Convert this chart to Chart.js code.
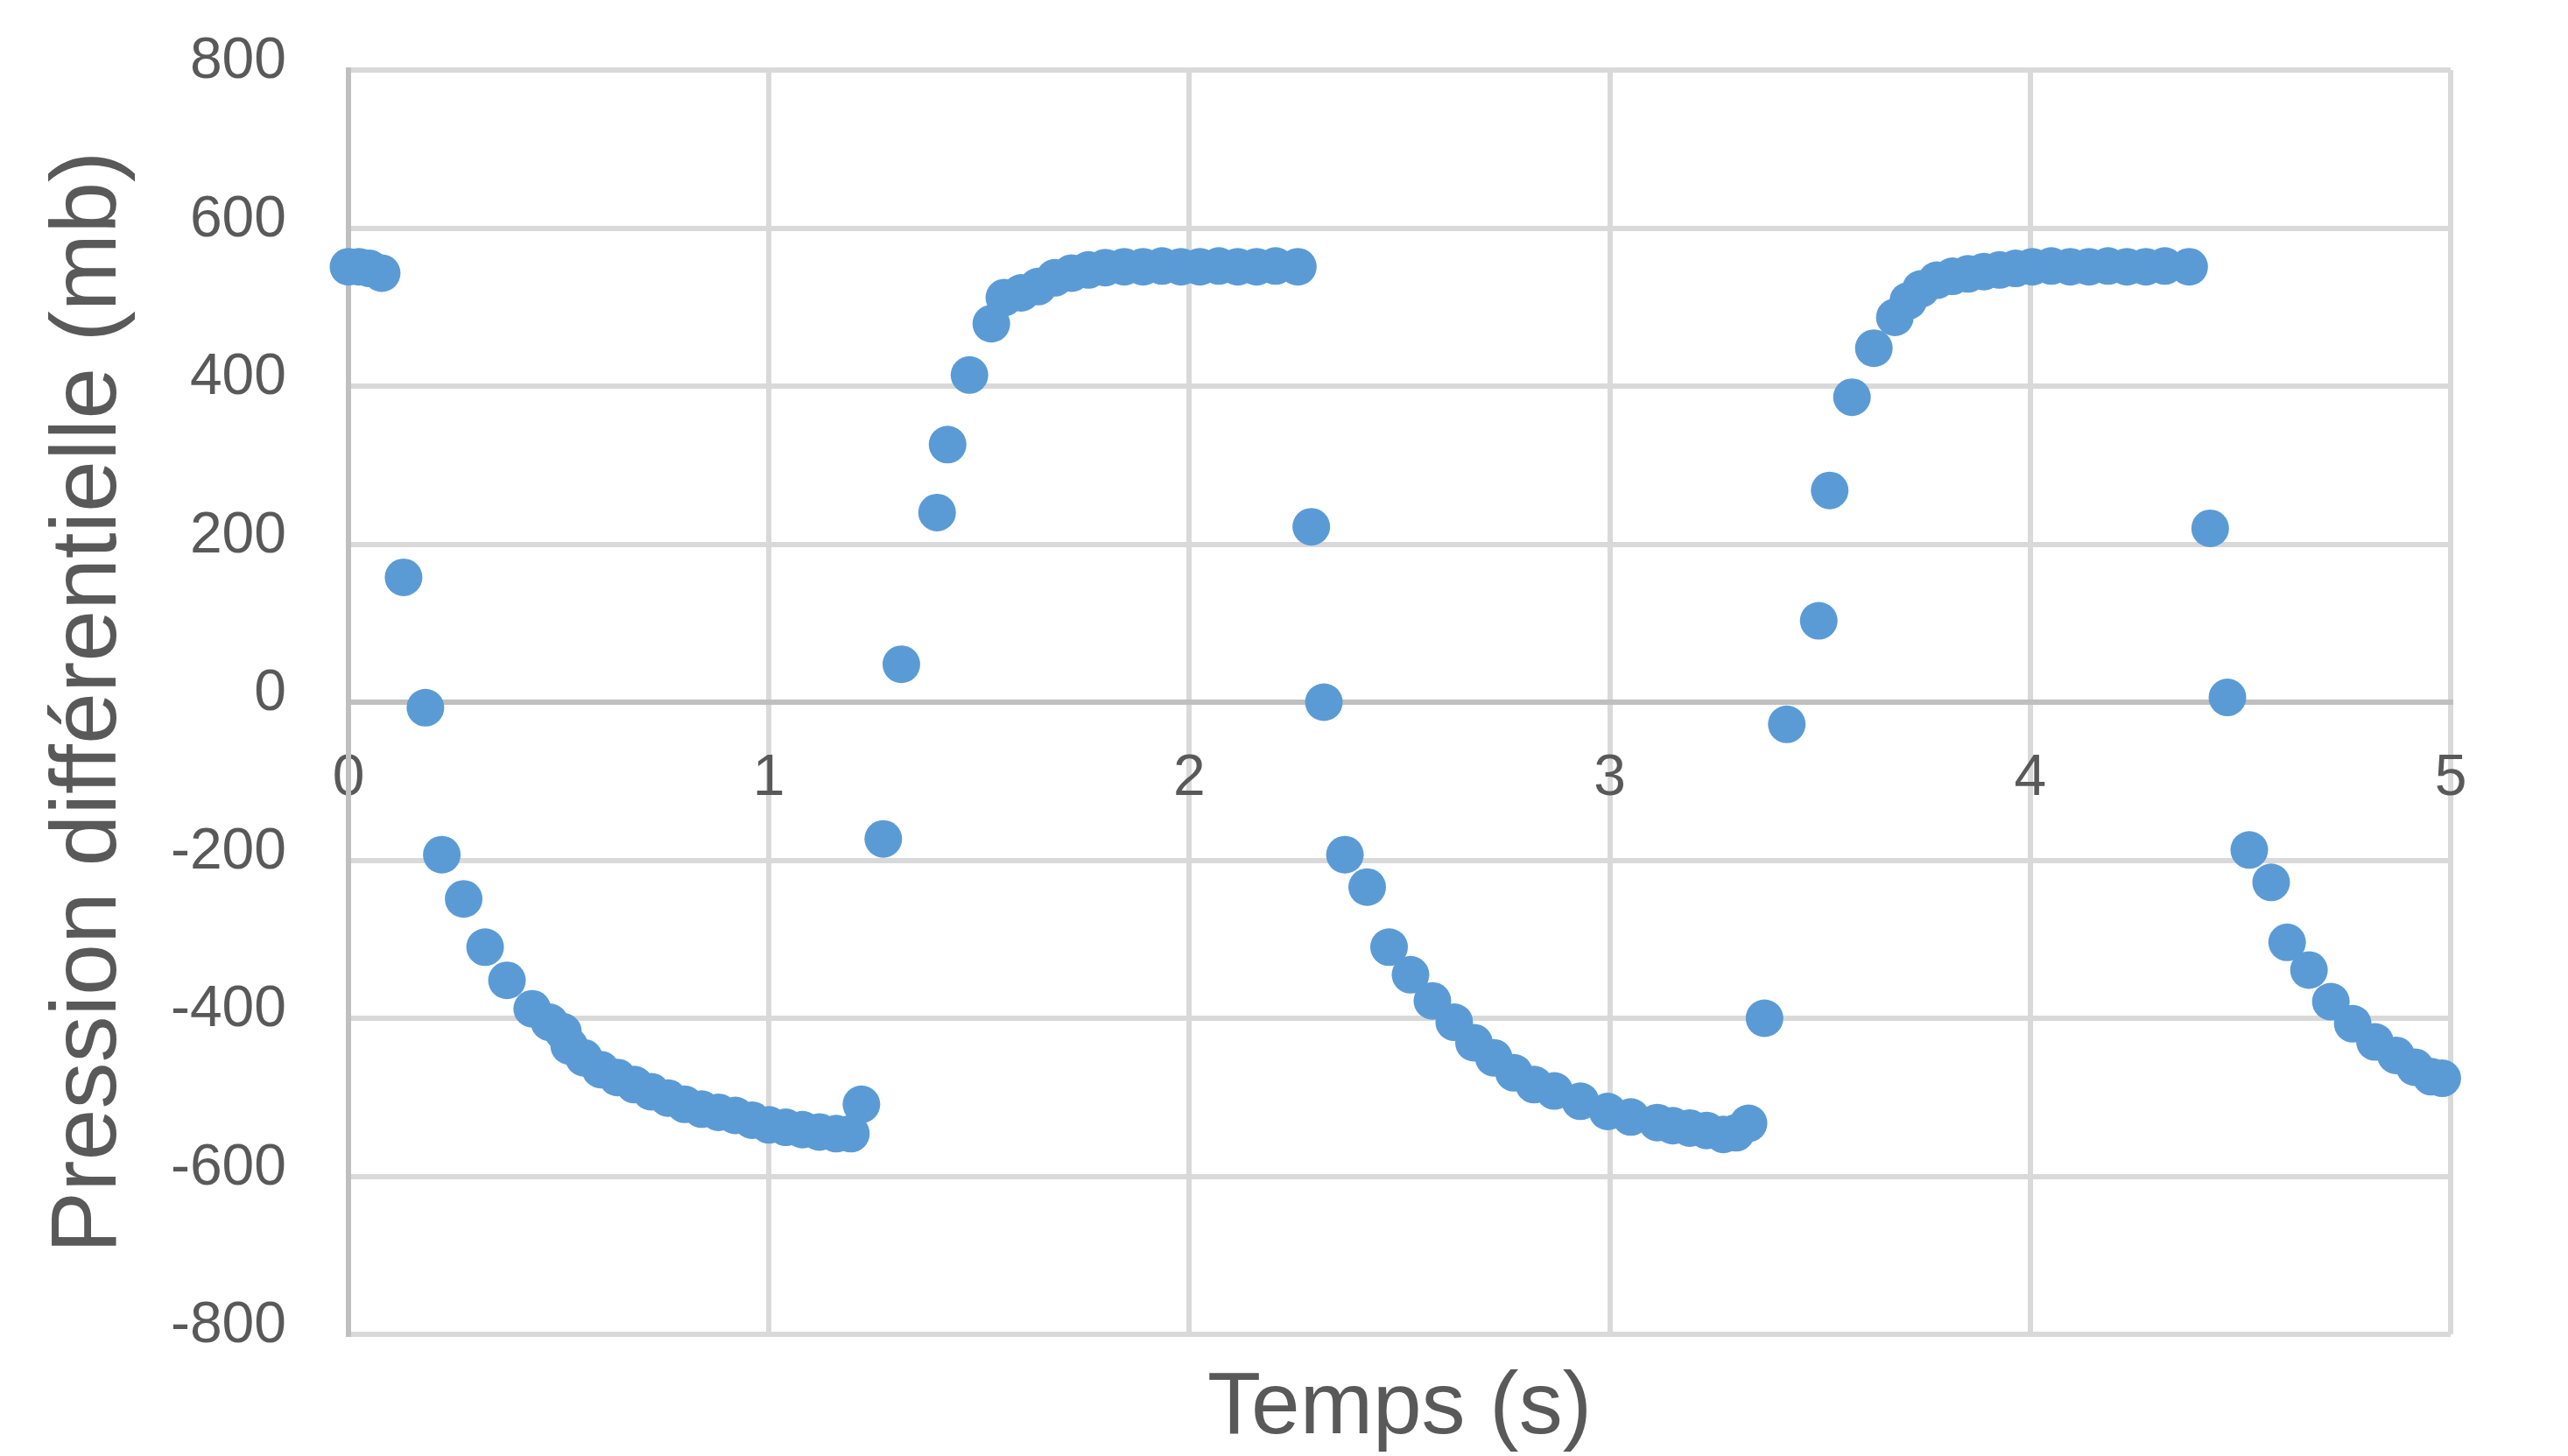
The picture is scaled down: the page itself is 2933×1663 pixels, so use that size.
<!DOCTYPE html>
<html>
<head>
<meta charset="utf-8">
<script src="https://cdn.jsdelivr.net/npm/chart.js@4.4.1/dist/chart.umd.min.js"></script>
<style>
html,body{margin:0;padding:0;background:#ffffff;}
#wrap{width:2933px;height:1663px;position:relative;}
</style>
</head>
<body>
<div id="wrap"><canvas id="c"></canvas></div>
<script>
// Temps (s)
const times = [
  0.000, 0.025, 0.050, 0.079, 0.131, 0.183, 0.222, 0.274, 0.325, 0.377,
  0.437, 0.478, 0.510, 0.525, 0.560, 0.600, 0.640, 0.680, 0.720, 0.760,
  0.800, 0.840, 0.880, 0.920, 0.960, 1.000, 1.040, 1.080, 1.120, 1.160,
  1.195, 1.220, 1.272, 1.315, 1.400, 1.425, 1.477, 1.529, 1.560, 1.600,
  1.640, 1.680, 1.720, 1.760, 1.800, 1.845, 1.890, 1.935, 1.980, 2.025,
  2.070, 2.115, 2.160, 2.205, 2.258, 2.290, 2.320, 2.370, 2.423, 2.475,
  2.526, 2.578, 2.630, 2.677, 2.724, 2.772, 2.820, 2.868, 2.930, 2.995,
  3.050, 3.113, 3.150, 3.190, 3.230, 3.270, 3.300, 3.330, 3.368, 3.421,
  3.497, 3.523, 3.576, 3.628, 3.678, 3.710, 3.740, 3.778, 3.815, 3.852,
  3.890, 3.927, 3.965, 4.005, 4.050, 4.095, 4.140, 4.185, 4.230, 4.275,
  4.320, 4.378, 4.428, 4.469, 4.521, 4.573, 4.611, 4.663, 4.715, 4.767,
  4.820, 4.870, 4.915, 4.954, 4.980
];
// Pression différentielle (mb)
const pressures = [
  551, 551, 549, 543, 158, -7, -193, -249, -310, -352,
  -388, -405, -417, -435, -450, -465, -475, -484, -493, -501,
  -509, -515, -519, -523, -529, -535, -538, -541, -544, -546,
  -546, -509, -173, 48, 240, 326, 414, 479, 512, 518,
  526, 537, 543, 547, 550, 551, 551, 552, 551, 551,
  552, 551, 551, 552, 551, 222, 0, -193, -234, -310,
  -345, -378, -405, -431, -450, -469, -484, -492, -505, -518,
  -525, -532, -536, -539, -542, -547, -545, -533, -400, -28,
  103, 268, 386, 448, 487, 508, 523, 534, 539, 542,
  545, 547, 549, 551, 552, 551, 551, 552, 551, 551,
  552, 551, 220, 6, -187, -228, -304, -339, -379, -407,
  -430, -447, -462, -474, -476
];
const xTicks = [0, 1, 2, 3, 4, 5];
const yTicks = [-800, -600, -400, -200, 0, 200, 400, 600, 800];

const textColor = '#595959';
const fontFamily = "'Liberation Sans', Arial, sans-serif";

const points = times.map((t, i) => ({ x: t, y: pressures[i] }));

new Chart(document.getElementById('c'), {
  type: 'scatter',
  data: {
    datasets: [{
      data: points,
      showLine: false,
      pointRadius: 21.5,
      pointHoverRadius: 21.5,
      pointBackgroundColor: '#5B9BD5',
      pointBorderWidth: 0,
      clip: false
    }]
  },
  options: {
    responsive: true,
    maintainAspectRatio: false,
    animation: false,
    events: [],
    layout: { padding: { left: 0, right: 134, top: 80, bottom: 0 } },
    plugins: {
      legend: { display: false },
      tooltip: { enabled: false },
      title: {
        display: true,
        text: 'Temps (s)',
        position: 'bottom',
        fullSize: false,
        color: textColor,
        font: { family: fontFamily, size: 100, weight: 'normal', lineHeight: 1.0 },
        padding: { top: 35, bottom: 4 }
      }
    },
    scales: {
      x: {
        type: 'linear',
        position: { y: 0 },
        min: xTicks[0],
        max: xTicks[xTicks.length - 1],
        afterBuildTicks: (scale) => { scale.ticks = xTicks.map(v => ({ value: v })); },
        ticks: {
          color: textColor,
          font: { family: fontFamily, size: 66 },
          padding: 0,
          maxRotation: 0,
          autoSkip: false
        },
        grid: { color: '#d9d9d9', lineWidth: 6, drawTicks: true, tickLength: 48, tickColor: 'rgba(0,0,0,0)' },
        border: { display: true, color: '#bfbfbf', width: 6 }
      },
      y: {
        type: 'linear',
        position: 'left',
        min: yTicks[0],
        max: yTicks[yTicks.length - 1],
        afterBuildTicks: (scale) => { scale.ticks = yTicks.map(v => ({ value: v })); },
        afterFit: (scale) => { scale.width = 398; },
        ticks: {
          color: textColor,
          font: { family: fontFamily, size: 66 },
          padding: 0,
          labelOffset: -9,
          autoSkip: false
        },
        grid: {
          color: (ctx) => (ctx.tick && ctx.tick.value === 0) ? '#bfbfbf' : '#d9d9d9',
          lineWidth: 6,
          drawTicks: true,
          tickLength: 71,
          tickColor: 'rgba(0,0,0,0)'
        },
        border: { display: true, color: '#bfbfbf', width: 6 },
        title: {
          display: true,
          text: 'Pression différentielle (mb)',
          color: textColor,
          font: { family: fontFamily, size: 106, lineHeight: 1.2 },
          padding: { top: 39, bottom: 0 }
        }
      }
    }
  }
});
</script>
</body>
</html>
